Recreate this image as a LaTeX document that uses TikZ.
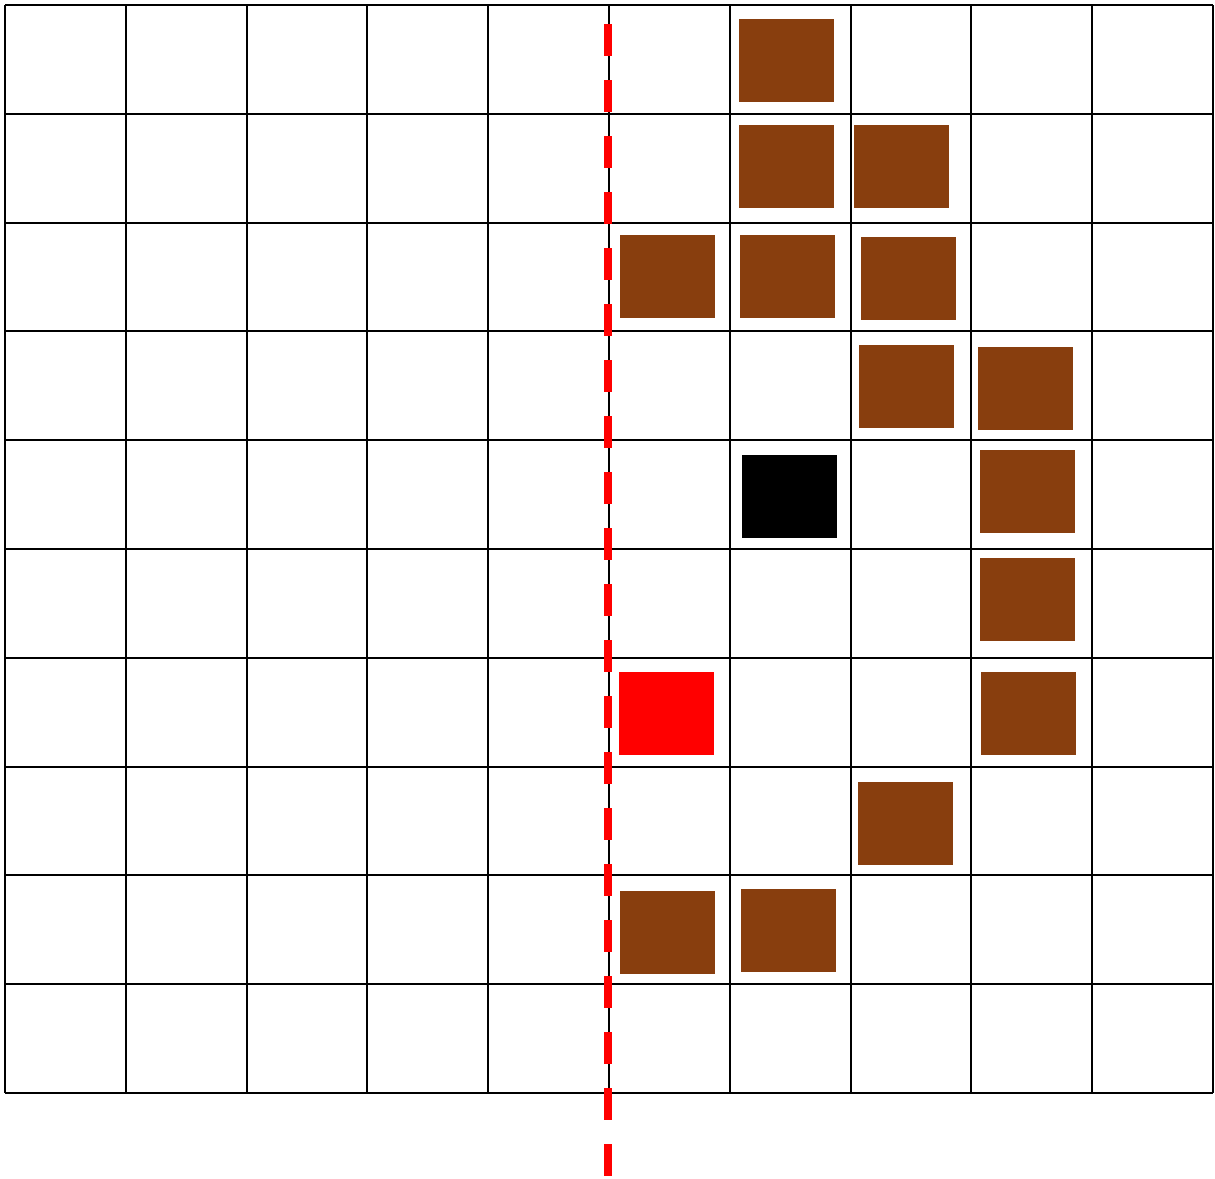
\documentclass[tikz,border=0pt]{standalone}
\definecolor{wallbrown}{RGB}{136,62,14}
\definecolor{linered}{RGB}{255,0,0}
\tikzset{
  gridline/.style={line width=1pt, black},
  sq/.style={rectangle, inner sep=0pt, minimum width=47.5pt, minimum height=41.5pt, draw=none},
  brownsq/.style={sq, fill=wallbrown},
  blacksq/.style={sq, fill=black},
  redsq/.style={sq, fill=linered},
  axisline/.style={line width=4pt, linered, dash pattern=on 16pt off 12pt}
}
\begin{document}
\begin{tikzpicture}[x=0.5pt,y=-0.5pt]
\useasboundingbox (0,0) rectangle (1215,1178);
% grid
\foreach \i in {0,...,10} {
  \draw[gridline] ({5+120.8*\i},5) -- ({5+120.8*\i},1093);
  \draw[gridline] (5,{5+108.8*\i}) -- (1213,{5+108.8*\i});
}
% squares
\node[brownsq] (b1) at (786.5,60.5) {};
\node[brownsq] (b2) at (786.5,166.5) {};
\node[brownsq] (b3) at (901.5,166) {};
\node[brownsq] (b4) at (667.5,276) {};
\node[brownsq] (b5) at (787.5,276) {};
\node[brownsq] (b6) at (908.5,278) {};
\node[brownsq] (b7) at (906.5,386.5) {};
\node[brownsq] (b8) at (1025.5,388.5) {};
\node[blacksq] (k1) at (789.5,496) {};
\node[brownsq] (b9) at (1027.5,491) {};
\node[brownsq] (b10) at (1027.5,599) {};
\node[redsq] (r1) at (666.5,713) {};
\node[brownsq] (b11) at (1028.5,713) {};
\node[brownsq] (b12) at (905.5,823) {};
\node[brownsq] (b13) at (667.5,932) {};
\node[brownsq] (b14) at (788.5,930) {};
% red dashed line
\coordinate (ltop) at (608,-32);
\coordinate (lbot) at (608,1178);
\draw[axisline] (ltop) -- (lbot);
\end{tikzpicture}
\end{document}
